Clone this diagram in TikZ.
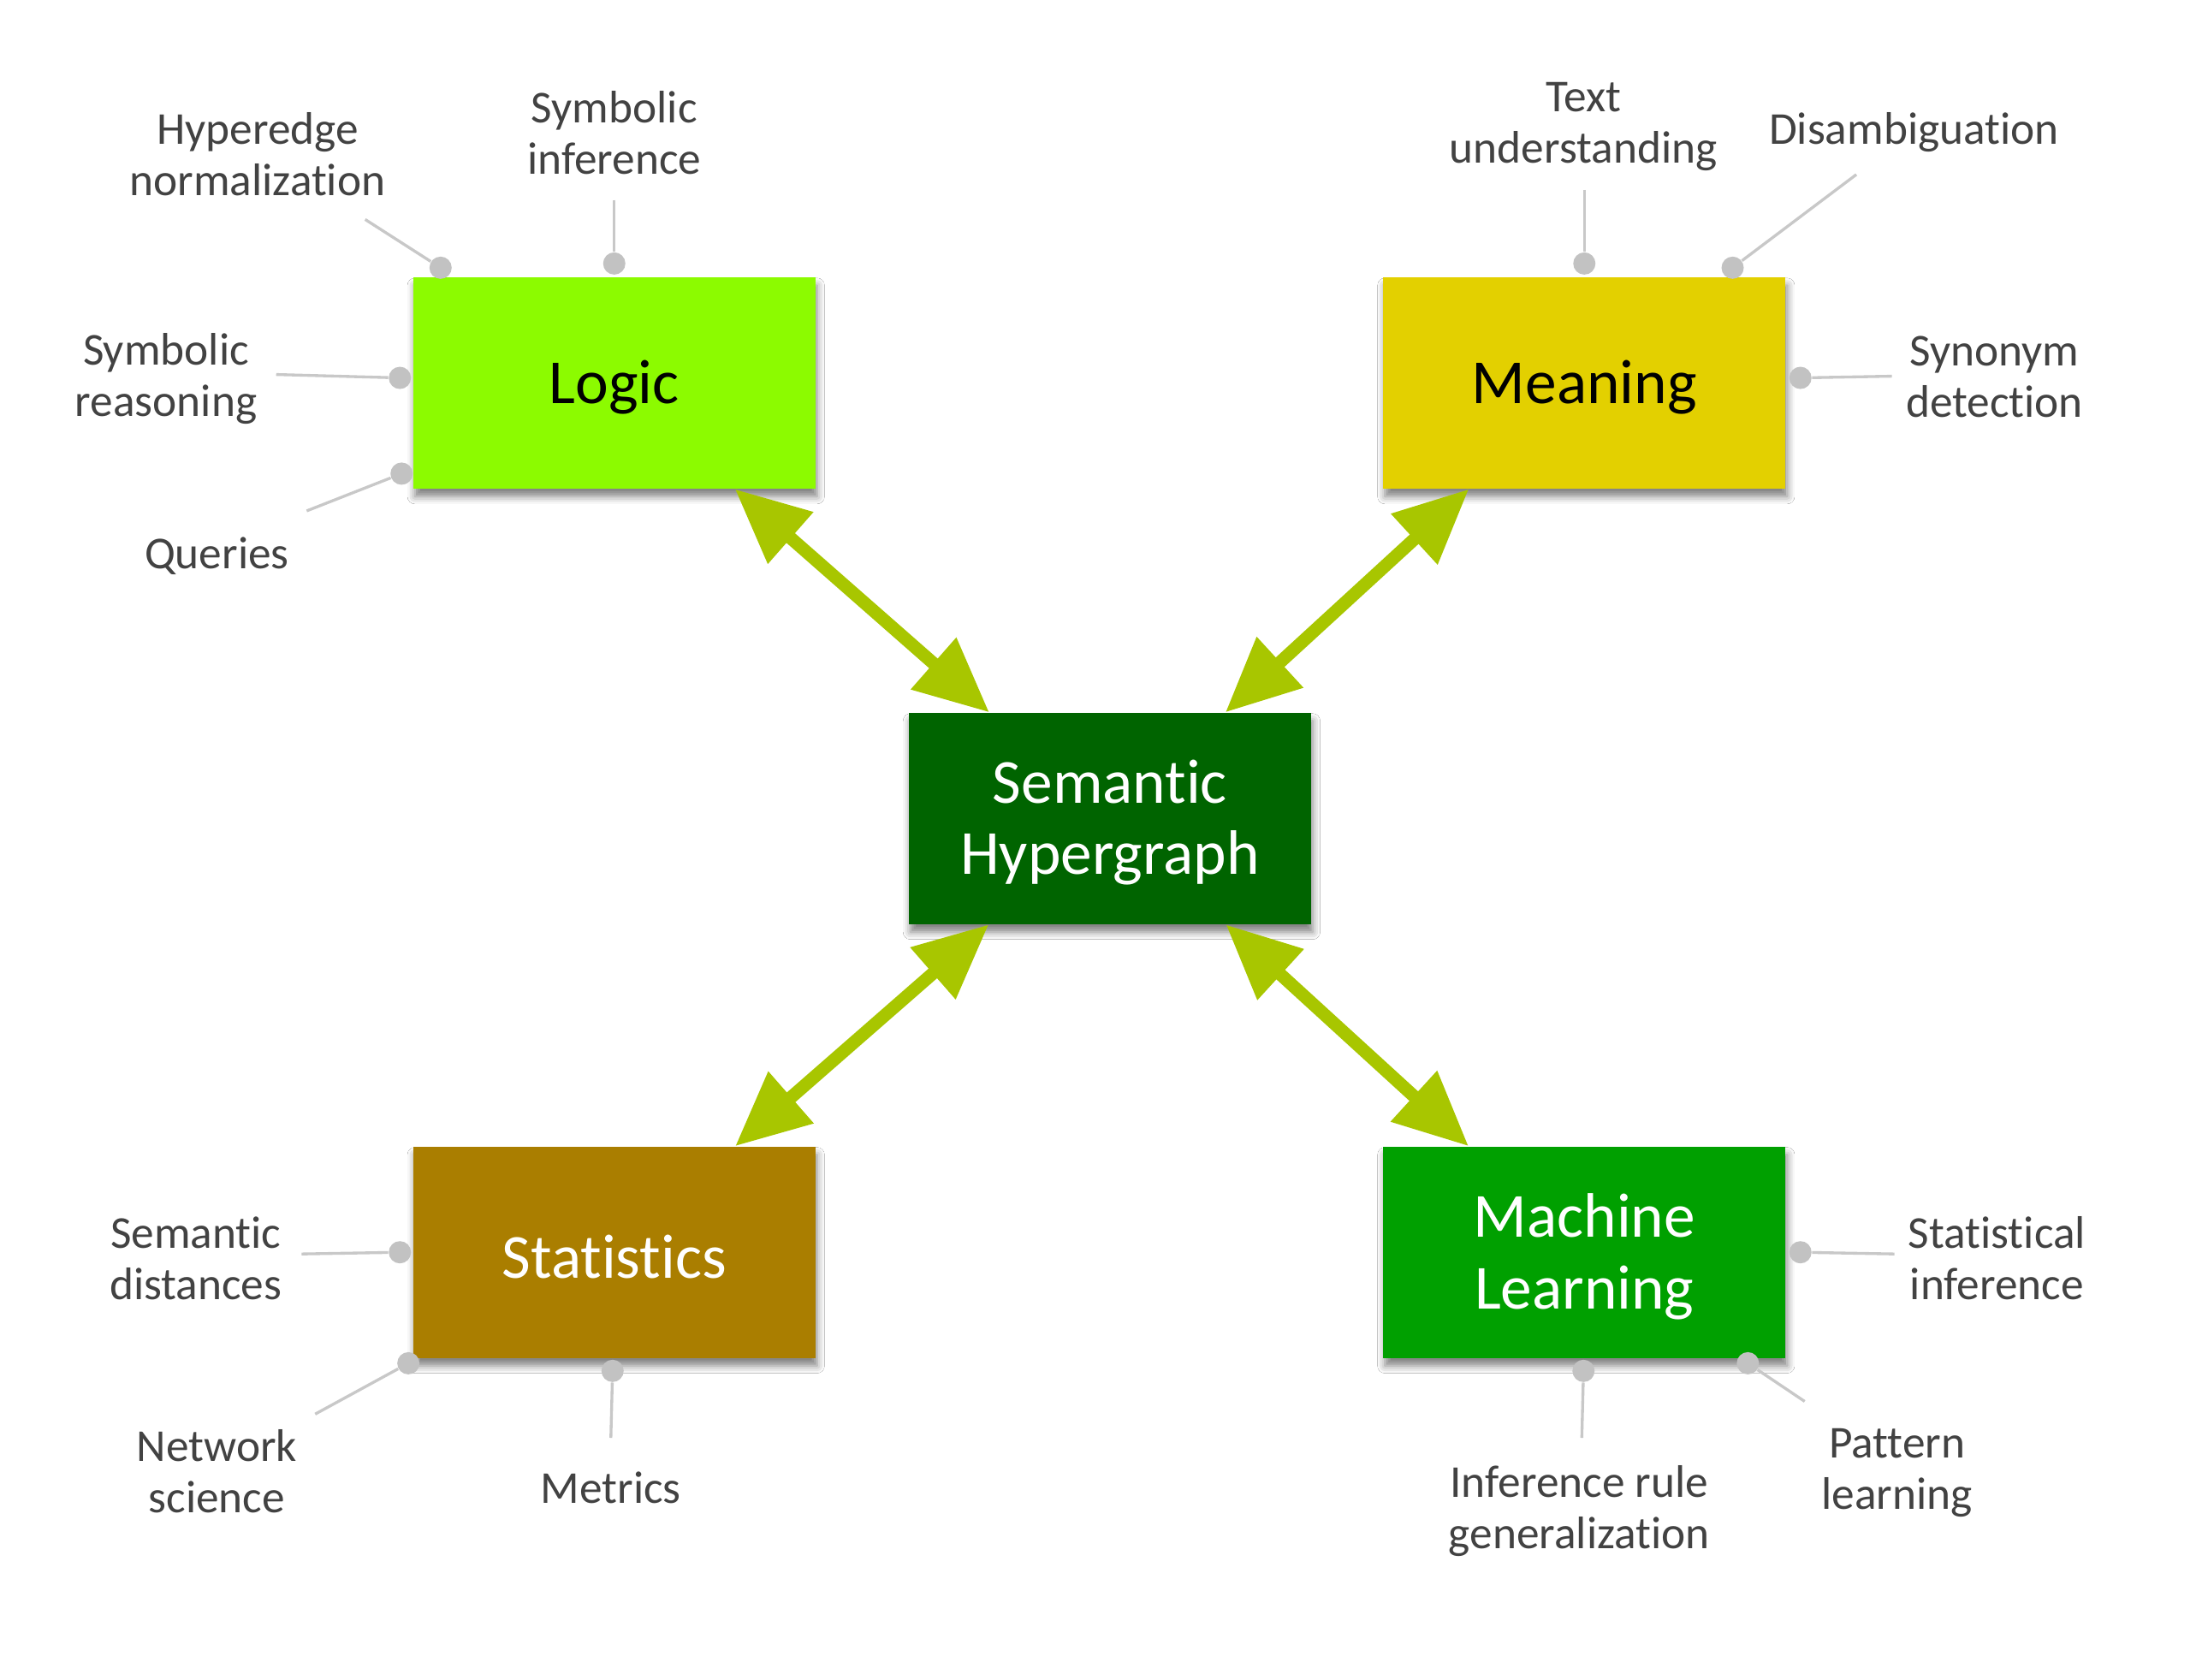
\documentclass[tikz,border=0pt]{standalone}
\usepackage{fontspec}
\setmainfont[Ligatures={NoCommon}]{Carlito}
\usetikzlibrary{arrows.meta,shadows.blur}
\definecolor{logicc}{HTML}{8CFB00}
\definecolor{meaningc}{HTML}{E3D000}
\definecolor{semc}{HTML}{006400}
\definecolor{statc}{HTML}{AA7E00}
\definecolor{mlc}{HTML}{00A000}
\definecolor{arrowc}{HTML}{A8C600}
\definecolor{lblc}{HTML}{424242}
\definecolor{dotc}{HTML}{C2C2C2}
\definecolor{linec}{HTML}{C8C8C8}
\newcommand\boxdn[1]{\raisebox{-1.5pt}[\height][\depth]{#1}}
\begin{document}
\begin{tikzpicture}[x=0.297pt,y=-0.297pt,
  box/.style={rectangle, minimum width=141pt, minimum height=74pt, inner sep=0pt, align=center,
    font=\fontsize{22}{25}\selectfont,
    blur shadow={shadow xshift=0.6pt, shadow yshift=-2.8pt, shadow blur radius=2.6pt, shadow opacity=50}},
  lbl/.style={align=center, text=lblc, font=\fontsize{16}{18}\selectfont, inner sep=0pt, yshift=-1.2pt},
  dot/.style={circle, fill=dotc, inner sep=0pt, minimum size=7.8pt},
  lnk/.style={draw=linec, line width=1pt},
  dbl/.style={draw=arrowc, line width=4.5pt,
    {Triangle[length=26pt,width=23pt]}-{Triangle[length=26pt,width=23pt]}}
]
\useasboundingbox[fill=white] (0pt,0pt) rectangle (774pt,-588.9pt);

% boxes
\node[box, fill=logicc, text=black] (logic) at (725,452) {\boxdn{Logic}};
\node[box, fill=meaningc, text=black] (meaning) at (1870,452) {\boxdn{Meaning}};
\node[box, fill=semc, text=white] (sem) at (1310,966) {\boxdn{Semantic}\\\boxdn{Hypergraph}};
\node[box, fill=statc, text=white] (stat) at (725,1478) {\boxdn{Statistics}};
\node[box, fill=mlc, text=white] (ml) at (1870,1478) {\boxdn{Machine}\\\boxdn{Learning}};

% arrows
\draw[dbl] (logic) -- (sem);
\draw[dbl] (meaning) -- (sem);
\draw[dbl] (sem) -- (stat);
\draw[dbl] (sem) -- (ml);

% labels
\node[lbl] (hn) at (304,178) {Hyperedge\\normalization};
\node[lbl] (si) at (725,153) {Symbolic\\inference};
\node[lbl] (sr) at (196,443) {Symbolic\\reasoning};
\node[lbl] (q) at (256,652) {Queries};
\node[lbl] (tu) at (1869,145) {Text\\understanding};
\node[lbl] (dis) at (2259,152) {Disambiguation};
\node[lbl] (syn) at (2354,441) {Synonym\\detection};
\node[lbl] (sd) at (231,1481) {Semantic\\distances};
\node[lbl] (ns) at (256,1732) {Network\\science};
\node[lbl] (met) at (721,1752) {Metrics};
\node[lbl] (sti) at (2357,1481) {Statistical\\inference};
\node[lbl] (irg) at (1864,1779) {Inference rule\\generalization};
\node[lbl] (pl) at (2239,1734) {Pattern\\learning};

% connector free ends
\coordinate (hnE) at (431,259);
\coordinate (siE) at (725,236);
\coordinate (srE) at (326,442);
\coordinate (qE) at (362,603);
\coordinate (tuE) at (1870,224);
\coordinate (disE) at (2191,206);
\coordinate (synE) at (2233,444);
\coordinate (sdE) at (356,1480);
\coordinate (nsE) at (372,1669);
\coordinate (metE) at (721,1697);
\coordinate (stiE) at (2236,1480);
\coordinate (irgE) at (1867,1697);
\coordinate (plE) at (2130,1654);

% dots
\node[dot] (hnD) at (520,316) {};
\node[dot] (siD) at (725,311) {};
\node[dot] (srD) at (472,446) {};
\node[dot] (qD) at (474,559) {};
\node[dot] (tuD) at (1870,311) {};
\node[dot] (disD) at (2045,316) {};
\node[dot] (synD) at (2125,446) {};
\node[dot] (sdD) at (472,1478) {};
\node[dot] (nsD) at (482,1609) {};
\node[dot] (metD) at (723,1618) {};
\node[dot] (stiD) at (2125,1478) {};
\node[dot] (irgD) at (1869,1618) {};
\node[dot] (plD) at (2063,1609) {};

% connectors
\draw[lnk] (hnE) -- (hnD);
\draw[lnk] (siE) -- (siD);
\draw[lnk] (srE) -- (srD);
\draw[lnk] (qE) -- (qD);
\draw[lnk] (tuE) -- (tuD);
\draw[lnk] (disE) -- (disD);
\draw[lnk] (synE) -- (synD);
\draw[lnk] (sdE) -- (sdD);
\draw[lnk] (nsE) -- (nsD);
\draw[lnk] (metE) -- (metD);
\draw[lnk] (stiE) -- (stiD);
\draw[lnk] (irgE) -- (irgD);
\draw[lnk] (plE) -- (plD);
\end{tikzpicture}
\end{document}
